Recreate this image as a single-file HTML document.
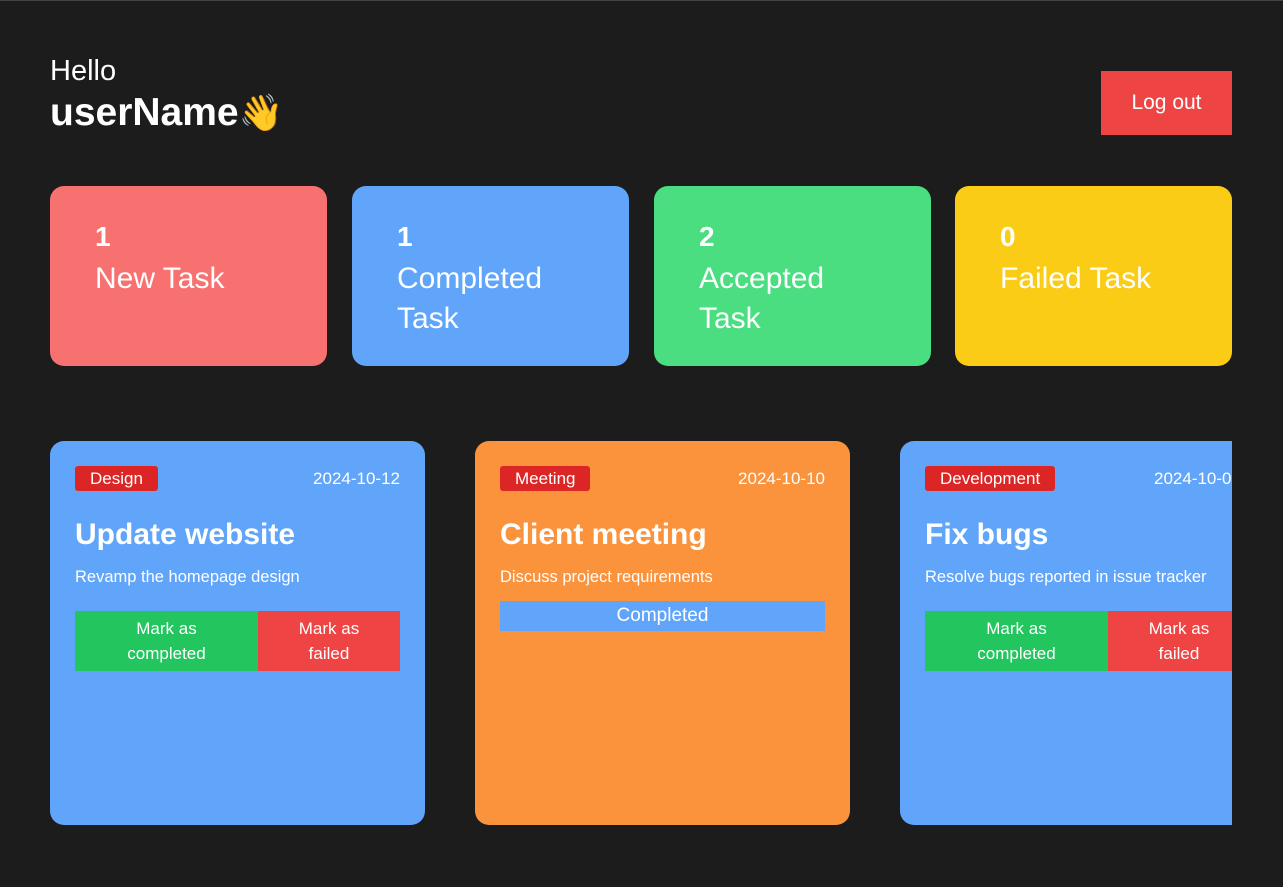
<!DOCTYPE html>
<html><head><meta charset="utf-8"><style>
*{margin:0;padding:0;box-sizing:border-box}
body{width:1283px;height:887px;background:#1c1c1c;font-family:"Liberation Sans",sans-serif;color:#fff;position:relative;overflow:hidden}
.a{position:absolute}
.stat{position:absolute;top:186px;width:277px;height:180px;border-radius:14px;padding:33px 45px;font-size:30px;line-height:40px}
.stat b{display:block;font-size:28px;line-height:36px;margin-bottom:4px}
.wrap{position:absolute;left:50px;top:441px;width:1182px;height:384px;overflow:hidden}
.card{position:absolute;top:0;width:375px;height:384px;border-radius:14px}
.tag{position:absolute;left:25px;top:25px;height:25px;background:#dc2626;border-radius:3px;font-size:17px;line-height:25px;padding:0 15px}
.date{position:absolute;right:25px;top:25px;font-size:17px;line-height:25px;white-space:nowrap}
.t{position:absolute;left:25px;top:77px;font-size:30px;font-weight:bold;white-space:nowrap}
.d{position:absolute;left:25px;top:127px;font-size:16.5px;white-space:nowrap}
.btn{position:absolute;top:170px;height:60px;font-size:17px;line-height:25px;text-align:center;padding-top:5px}
</style></head><body>
<div class="a" style="left:0;top:0;width:1283px;height:1px;background:#444"></div>
<div class="a" style="left:50px;top:55px;font-size:29px">Hello</div>
<div class="a" style="left:50px;top:91px;font-size:39px;font-weight:bold">userName<span style="font-size:36px">👋</span></div>
<div class="a" style="left:1101px;top:71px;width:131px;height:64px;background:#ef4444;font-size:21px;line-height:64px;text-align:center">Log out</div>
<div class="stat" style="left:50px;background:#f87171"><b>1</b>New Task</div>
<div class="stat" style="left:352px;background:#60a5fa"><b>1</b>Completed Task</div>
<div class="stat" style="left:654px;background:#4ade80"><b>2</b>Accepted Task</div>
<div class="stat" style="left:955px;background:#facc15"><b>0</b>Failed Task</div>
<div class="wrap">
<div class="card" style="left:0;background:#60a5fa">
<div class="tag">Design</div><div class="date">2024-10-12</div>
<div class="t">Update website</div><div class="d">Revamp the homepage design</div>
<div class="btn" style="left:25px;width:183px;background:#22c55e">Mark as<br>completed</div>
<div class="btn" style="left:208px;width:142px;background:#ef4444">Mark as<br>failed</div>
</div>
<div class="card" style="left:425px;background:#fb923c">
<div class="tag">Meeting</div><div class="date">2024-10-10</div>
<div class="t">Client meeting</div><div class="d">Discuss project requirements</div>
<div class="a" style="left:25px;top:160px;width:325px;height:30px;background:#60a5fa;font-size:19px;line-height:30px;text-align:center">Completed</div>
</div>
<div class="card" style="left:850px;background:#60a5fa">
<div class="tag">Development</div><div class="date" style="right:auto;left:254px">2024-10-08</div>
<div class="t">Fix bugs</div><div class="d">Resolve bugs reported in issue tracker</div>
<div class="btn" style="left:25px;width:183px;background:#22c55e">Mark as<br>completed</div>
<div class="btn" style="left:208px;width:142px;background:#ef4444">Mark as<br>failed</div>
</div>
</div>
</body></html>
